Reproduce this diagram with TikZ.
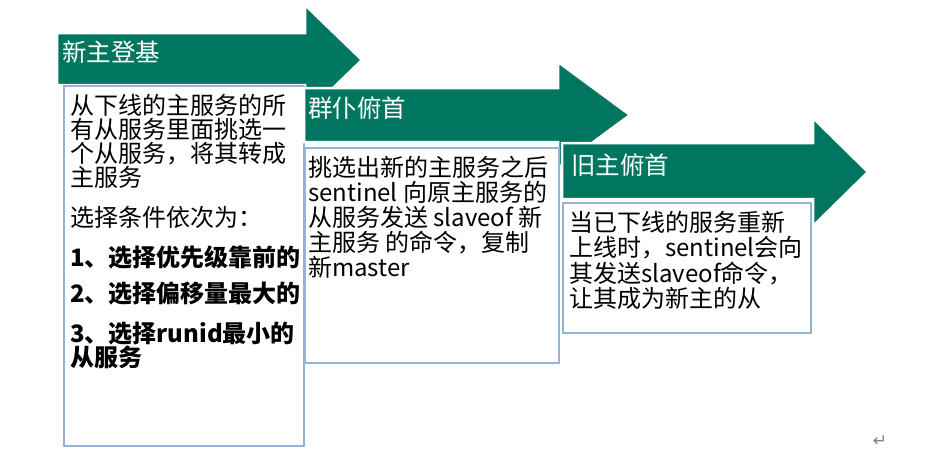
\documentclass[tikz,border=0pt]{standalone}
\usepackage{fontspec}
\setmainfont{Noto Sans CJK SC}
\newfontfamily\symbolfont{DejaVu Sans}
\usepackage{xcolor}
\usetikzlibrary{positioning}
\definecolor{stagegreen}{RGB}{0,118,96}
\definecolor{boxblue}{RGB}{149,179,215}

\begin{document}
\begin{tikzpicture}[
    x=1pt, y=-1pt,
    stage_arrow/.style={fill=stagegreen, draw=white, line width=2.5pt, line join=miter},
    stage_title/.style={anchor=west, inner sep=0pt, text=white, font=\fontsize{24.5}{26}\selectfont},
    stage_box/.style={draw=boxblue, line width=1.5pt, fill=white, anchor=north west, inner sep=0pt},
    stage_text/.style={anchor=north west, inner sep=0pt, align=left, font=\fontsize{24}{24}\selectfont}
]
\useasboundingbox (0,0) rectangle (926,450);

% stage 1
\fill[stage_arrow] (57,33) -- (305,33) -- (305,5) -- (362,60) -- (305,115) -- (305,85) -- (57,85) -- cycle;
\node[stage_title] (title1) at (62,52) {新主登基};
\node[stage_box, minimum width=240, minimum height=360] (box1) at (63,85) {};
\node[stage_text] (text1) at ([shift={(7,9)}]box1.north west)
    {从下线的主服务的所\\
     有从服务里面挑选一\\
     个从服务，将其转成\\
     主服务\\[16pt]
     选择条件依次为：\\[16pt]
     \textbf{1、选择优先级靠前的}\\[12pt]
     \textbf{2、选择偏移量最大的}\\[16pt]
     \textbf{3、选择runid最小的}\\
     \textbf{从服务}};

% stage 2
\fill[stage_arrow] (304,88) -- (558,88) -- (558,62) -- (630,115) -- (558,168) -- (558,142) -- (304,142) -- cycle;
\node[stage_title] (title2) at (308,108) {群仆俯首};
\node[stage_box, minimum width=254, minimum height=215] (box2) at (304,147) {};
\node[stage_text, font=\fontsize{24}{25}\selectfont] (text2) at ([shift={(4,9)}]box2.north west)
    {挑选出新的主服务之后\\
     sentinel 向原主服务的\\
     从服务发送 slaveof 新\\
     主服务 的命令，复制\\
     新master};

% stage 3
\fill[stage_arrow] (562,143) -- (813,143) -- (813,118) -- (868,172) -- (813,226) -- (813,199) -- (562,199) -- cycle;
\node[stage_title] (title3) at (571,165) {旧主俯首};
\node[stage_box, minimum width=248, minimum height=130] (box3) at (562,202) {};
\node[stage_text, font=\fontsize{24}{25.5}\selectfont] (text3) at ([shift={(7,9)}]box3.north west)
    {当已下线的服务重新\\
     上线时，sentinel会向\\
     其发送slaveof命令，\\
     让其成为新主的从};

\node[text=black!50, font=\symbolfont\fontsize{17}{17}\selectfont, inner sep=0pt] (mark) at (880,441) {↵};
\end{tikzpicture}
\end{document}
